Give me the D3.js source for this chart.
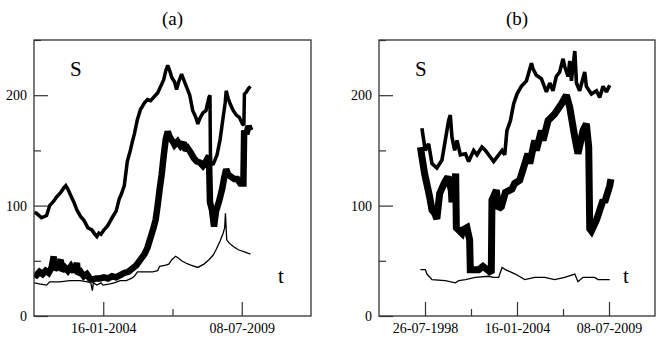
<!DOCTYPE html>
<html>
<head>
<meta charset="utf-8">
<script src="https://cdn.jsdelivr.net/npm/d3@7"></script>
<style>
  body { margin: 0; background: #fff; }
  svg text { font-family: "Times New Roman", Times, "Liberation Serif", "DejaVu Serif", serif !important; }
</style>
</head>
<body>
<div id="fig"></div>
<script>
// values: [decimal year, S]

// panel (a)
var aUpper = [
  [2001.31, 94], [2001.40, 93], [2001.60, 89], [2001.80, 91], [2001.92, 100], [2002.08, 104],
  [2002.20, 108], [2002.36, 112], [2002.48, 116], [2002.56, 118], [2002.64, 115], [2002.76, 109],
  [2002.88, 103], [2003.00, 96], [2003.15, 90], [2003.27, 87], [2003.43, 80], [2003.59, 78],
  [2003.71, 74], [2003.79, 72], [2003.87, 75], [2003.95, 74], [2004.07, 78], [2004.19, 81],
  [2004.27, 84], [2004.39, 89], [2004.55, 95], [2004.67, 106], [2004.75, 110], [2004.87, 118],
  [2004.99, 140], [2005.11, 150], [2005.19, 158], [2005.27, 165], [2005.39, 178], [2005.51, 187],
  [2005.67, 193], [2005.79, 196], [2005.91, 195], [2006.07, 199], [2006.19, 202], [2006.31, 208],
  [2006.43, 214], [2006.51, 222], [2006.59, 227], [2006.67, 222], [2006.75, 216], [2006.86, 212],
  [2006.94, 205], [2007.02, 212], [2007.14, 219], [2007.22, 214], [2007.34, 207], [2007.46, 200],
  [2007.58, 186], [2007.70, 180], [2007.78, 174], [2007.86, 179], [2007.98, 184], [2008.10, 186],
  [2008.22, 198], [2008.26, 200], [2008.28, 140], [2008.38, 137], [2008.54, 146], [2008.66, 160],
  [2008.78, 180], [2008.86, 193], [2008.90, 204], [2008.98, 197], [2009.06, 192], [2009.18, 186],
  [2009.30, 182], [2009.42, 180], [2009.54, 174], [2009.60, 173], [2009.62, 201], [2009.70, 203],
  [2009.78, 206], [2009.86, 208]
];
var aMiddle = [
  [2001.31, 38], [2001.40, 37], [2001.52, 40], [2001.64, 38], [2001.76, 41], [2001.88, 39],
  [2002.00, 44], [2002.08, 54], [2002.12, 42], [2002.24, 45], [2002.36, 51], [2002.40, 41],
  [2002.52, 44], [2002.64, 41], [2002.76, 45], [2002.88, 40], [2003.00, 48], [2003.04, 38],
  [2003.15, 40], [2003.27, 36], [2003.39, 38], [2003.51, 34], [2003.63, 33], [2003.75, 34],
  [2003.91, 34], [2004.07, 35], [2004.23, 34], [2004.39, 36], [2004.55, 35], [2004.71, 37],
  [2004.87, 39], [2005.03, 40], [2005.19, 43], [2005.35, 46], [2005.51, 51], [2005.67, 56],
  [2005.79, 62], [2005.91, 71], [2006.03, 80], [2006.11, 87], [2006.19, 100], [2006.27, 115],
  [2006.35, 128], [2006.43, 145], [2006.51, 160], [2006.59, 167], [2006.67, 162], [2006.79, 158],
  [2006.86, 155], [2006.98, 158], [2007.10, 154], [2007.22, 157], [2007.30, 150], [2007.38, 152],
  [2007.50, 148], [2007.62, 143], [2007.74, 140], [2007.86, 139], [2007.98, 136], [2008.10, 140],
  [2008.22, 145], [2008.26, 103], [2008.34, 96], [2008.42, 81], [2008.50, 95], [2008.62, 104],
  [2008.74, 115], [2008.82, 125], [2008.90, 133], [2008.98, 128], [2009.10, 126], [2009.22, 124],
  [2009.34, 124], [2009.46, 120], [2009.58, 120], [2009.61, 168], [2009.70, 165], [2009.78, 172],
  [2009.86, 168]
];
var aLower = [
  [2001.31, 30], [2001.52, 29], [2001.80, 28], [2001.92, 31], [2002.32, 31], [2002.72, 32],
  [2003.12, 32], [2003.43, 31], [2003.55, 30], [2003.61, 23], [2003.65, 30], [2003.79, 28],
  [2003.95, 30], [2004.03, 28], [2004.31, 29], [2004.47, 30], [2004.71, 32], [2004.95, 32],
  [2005.15, 34], [2005.27, 36], [2005.39, 40], [2005.71, 40], [2005.99, 40], [2006.19, 41],
  [2006.27, 45], [2006.51, 46], [2006.63, 47], [2006.75, 51], [2006.90, 54], [2006.98, 53],
  [2007.14, 50], [2007.30, 48], [2007.50, 46], [2007.78, 44], [2008.02, 47], [2008.22, 51],
  [2008.38, 55], [2008.50, 60], [2008.66, 68], [2008.78, 75], [2008.84, 80], [2008.87, 93],
  [2008.92, 69], [2009.02, 66], [2009.18, 63], [2009.38, 60], [2009.62, 58], [2009.86, 56]
];

// panel (b)
var bUpper = [
  [1998.38, 170], [1998.58, 150], [1998.78, 156], [1998.98, 138], [1999.27, 134], [1999.57, 141],
  [1999.77, 159], [1999.97, 177], [2000.07, 182], [2000.17, 162], [2000.33, 150], [2000.47, 159],
  [2000.67, 146], [2000.97, 147], [2001.16, 140], [2001.46, 150], [2001.66, 146], [2001.95, 153],
  [2002.16, 150], [2002.45, 144], [2002.65, 140], [2002.95, 146], [2003.15, 150], [2003.31, 146],
  [2003.44, 168], [2003.65, 177], [2003.84, 192], [2004.04, 201], [2004.30, 208], [2004.60, 213],
  [2004.90, 229], [2004.99, 224], [2005.19, 218], [2005.49, 215], [2005.79, 203], [2005.99, 211],
  [2006.18, 204], [2006.38, 217], [2006.58, 221], [2006.78, 233], [2006.88, 226], [2007.08, 217],
  [2007.18, 231], [2007.28, 213], [2007.48, 240], [2007.58, 211], [2007.77, 204], [2008.07, 221],
  [2008.17, 208], [2008.47, 201], [2008.77, 204], [2008.96, 198], [2009.16, 208], [2009.36, 203],
  [2009.56, 209]
];
var bMiddle = [
  [1998.29, 153], [1998.54, 129], [1998.84, 108], [1998.98, 96], [1999.14, 93], [1999.27, 88],
  [1999.44, 111], [1999.73, 121], [1999.93, 126], [2000.13, 114], [2000.17, 103], [2000.39, 129],
  [2000.43, 80], [2000.76, 75], [2000.82, 78], [2001.06, 80], [2001.22, 69], [2001.26, 42],
  [2001.62, 42], [2001.76, 42], [2002.01, 45], [2002.35, 41], [2002.51, 39], [2002.55, 105],
  [2002.81, 114], [2002.95, 97], [2003.11, 99], [2003.35, 112], [2003.74, 115], [2003.90, 120],
  [2004.20, 123], [2004.69, 147], [2004.80, 138], [2005.09, 159], [2005.19, 150], [2005.49, 168],
  [2005.59, 159], [2005.89, 177], [2006.28, 183], [2006.68, 192], [2006.98, 200], [2007.18, 189],
  [2007.48, 162], [2007.67, 147], [2007.97, 168], [2008.17, 174], [2008.31, 153], [2008.37, 79],
  [2008.47, 77], [2008.77, 87], [2008.86, 91], [2009.16, 105], [2009.26, 103], [2009.56, 118],
  [2009.63, 124]
];
var bLower = [
  [1998.29, 42], [1998.58, 42], [1998.68, 38], [1998.98, 33], [1999.77, 32], [2000.37, 30],
  [2000.57, 32], [2000.97, 33], [2001.56, 35], [2002.35, 36], [2002.65, 35], [2002.95, 35],
  [2003.15, 44], [2003.35, 42], [2003.94, 38], [2004.50, 33], [2005.09, 35], [2005.69, 35],
  [2006.28, 33], [2006.88, 35], [2007.48, 38], [2007.67, 31], [2007.97, 35], [2008.67, 35],
  [2008.86, 33], [2009.56, 33]
];

var tickLabelsA = ["16-01-2004", "08-07-2009"];
var tickLabelsB = ["26-07-1998", "16-01-2004", "08-07-2009"];
var yTicks = [0, 100, 200];
var yMinor = [50, 150, 250];

var W = 660, H = 347;
var plotTop = 40, plotBottom = 316;
var DAY = 864e5;
var FONT = "Times New Roman, Times, Liberation Serif, DejaVu Serif, serif";
var parseDate = d3.utcParse("%d-%m-%Y");

var svg = d3.select("#fig").append("svg")
    .attr("width", W)
    .attr("height", H)
    .attr("font-family", FONT);

function yearToDate(y) {
    var yr = Math.floor(y);
    var s = Date.UTC(yr, 0, 1), e = Date.UTC(yr + 1, 0, 1);
    return new Date(s + (y - yr) * (e - s));
}

function drawPanel(id, left, right, title, labels, lines) {
    var majors = labels.map(parseDate);
    var d0 = new Date(+majors[0] - 1000 * DAY);
    var d1 = new Date(+majors[majors.length - 1] + 1000 * DAY);
    var minors = [];
    for (var i = 0; i < majors.length - 1; i++) {
        minors.push(new Date((+majors[i] + +majors[i + 1]) / 2));
    }

    var x = d3.scaleUtc().domain([d0, d1]).range([left, right]);
    var y = d3.scaleLinear().domain([0, 250]).range([plotBottom, plotTop]);

    var g = svg.append("g").attr("class", "panel");

    g.append("clipPath").attr("id", "clip-" + id)
      .append("rect")
        .attr("x", left).attr("y", plotTop)
        .attr("width", right - left).attr("height", plotBottom - plotTop);

    var line = d3.line()
        .x(function(d) { return x(yearToDate(d[0])); })
        .y(function(d) { return y(d[1]); });

    g.append("g").attr("clip-path", "url(#clip-" + id + ")")
      .selectAll("path").data(lines).enter().append("path")
        .attr("d", function(d) { return line(d.data); })
        .attr("fill", "none")
        .attr("stroke", "#000")
        .attr("stroke-width", function(d) { return d.w; })
        .attr("stroke-linejoin", "miter")
        .attr("stroke-miterlimit", 2);

    // x axis, major + minor ticks inside
    g.append("g")
        .attr("transform", "translate(0," + plotBottom + ")")
        .call(d3.axisBottom(x).tickValues(majors).tickSize(-14).tickPadding(7)
            .tickFormat(d3.utcFormat("%d-%m-%Y")));
    g.append("g")
        .attr("transform", "translate(0," + plotBottom + ")")
        .call(d3.axisBottom(x).tickValues(minors).tickSize(-7).tickFormat(""));

    g.append("g")
        .attr("transform", "translate(" + left + ",0)")
        .call(d3.axisLeft(y).tickValues(yTicks).tickSize(-14).tickPadding(7));
    g.append("g")
        .attr("transform", "translate(" + left + ",0)")
        .call(d3.axisLeft(y).tickValues(yMinor).tickSize(-7).tickFormat(""));

    g.selectAll(".domain").remove();
    g.selectAll("g").attr("font-family", null);
    g.selectAll(".tick line").attr("stroke", "#333").attr("stroke-width", 1.2);
    g.selectAll(".tick text")
        .attr("font-size", 14)
        .attr("fill", "#000");

    g.append("rect")
        .attr("x", left).attr("y", plotTop)
        .attr("width", right - left).attr("height", plotBottom - plotTop)
        .attr("fill", "none")
        .attr("stroke", "#333")
        .attr("stroke-width", 1.3);

    g.append("text")
        .attr("x", (left + right) / 2).attr("y", 25)
        .attr("text-anchor", "middle")
        .attr("font-size", 19)
        .text(title);

    g.append("text")
        .attr("x", left + 36).attr("y", 76)
        .attr("font-size", 21)
        .text("S");

    g.append("text")
        .attr("x", left + 244).attr("y", 283)
        .attr("font-size", 21)
        .text("t");
}

drawPanel("a", 34, 311, "(a)", tickLabelsA, [
    {data: aUpper, w: 3.5}, {data: aMiddle, w: 6.5}, {data: aLower, w: 1.3}
]);
drawPanel("b", 379, 655, "(b)", tickLabelsB, [
    {data: bUpper, w: 3.6}, {data: bMiddle, w: 7}, {data: bLower, w: 1.3}
]);
</script>
</body>
</html>
